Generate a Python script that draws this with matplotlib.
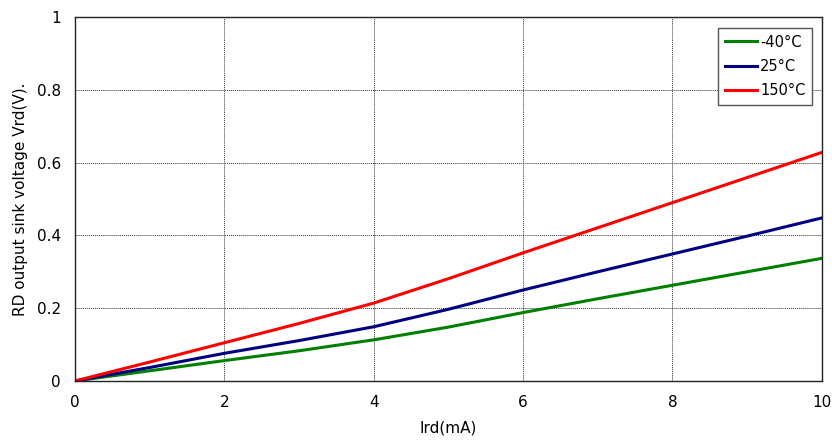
import numpy as np
import matplotlib.pyplot as plt

#//data\\#
ird = [0, 1, 2, 3, 4, 5, 6, 7, 8, 9, 10]
v_m40 = [0, 0.028, 0.056, 0.083, 0.113, 0.148, 0.188, 0.226, 0.263, 0.300, 0.337]
v_25 = [0, 0.037, 0.076, 0.111, 0.149, 0.197, 0.250, 0.300, 0.349, 0.398, 0.448]
v_150 = [0, 0.052, 0.105, 0.158, 0.214, 0.281, 0.352, 0.421, 0.490, 0.559, 0.628]
labels = ["-40°C", "25°C", "150°C"]
colors = ["#008000", "#000080", "#ff0000"]

#//plot\\#
plt.rcParams['font.family'] = ['DejaVu Sans']
fig = plt.figure(figsize=(8.32, 4.48), dpi=100)
ax = fig.add_axes([0.0901, 0.1496, 0.8977, 0.8124])

for ys, lab, c in zip([v_m40, v_25, v_150], labels, colors):
    ax.plot(ird, ys, color=c, lw=2.2, label=lab)

ax.set_xlim(0, 10)
ax.set_ylim(0, 1)
ax.set_xticks([0, 2, 4, 6, 8, 10])
ax.set_yticks([0, 0.2, 0.4, 0.6, 0.8, 1])
ax.set_yticklabels(["0", "0.2", "0.4", "0.6", "0.8", "1"])
ax.tick_params(length=0, labelsize=11, pad=10)
ax.grid(True, color="#333333", ls=(0, (1, 1)), lw=0.7)
for s in ax.spines.values():
    s.set_linewidth(1.0)
    s.set_color("#222222")

ax.set_xlabel("Ird(mA)", fontsize=11, labelpad=8)
ax.set_ylabel("RD output sink voltage Vrd(V).", fontsize=11, labelpad=6)

leg = ax.legend(loc="upper right", bbox_to_anchor=(0.9965, 0.99), fontsize=10.5,
                fancybox=False, framealpha=1, edgecolor="#555555",
                handlelength=2.2, borderpad=0.45, labelspacing=0.65, handletextpad=0.2)
leg.get_frame().set_linewidth(1.0)

plt.savefig("out.png", dpi=100)
